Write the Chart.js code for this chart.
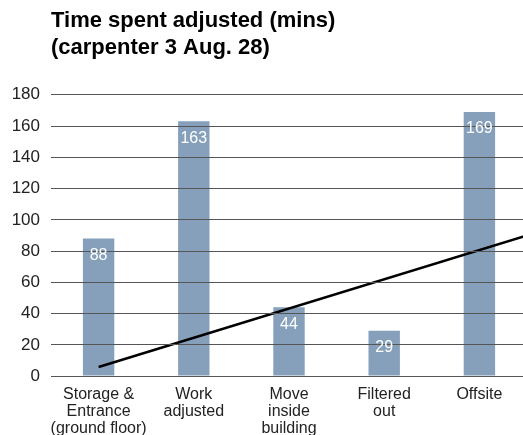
<!DOCTYPE html>
<html>
<head>
<meta charset="utf-8">
<script src="https://cdn.jsdelivr.net/npm/chart.js@4.4.0/dist/chart.umd.min.js"></script>
<style>
  html, body { margin: 0; padding: 0; overflow: hidden; background: #fff; }
  #wrap { width: 527px; height: 447px; }
</style>
</head>
<body>
<div id="wrap"><canvas id="chart"></canvas></div>
<script>
const categories = [
  ['Storage &', 'Entrance', '(ground floor)'],
  ['Work', 'adjusted'],
  ['Move', 'inside', 'building'],
  ['Filtered', 'out'],
  ['Offsite']
];
const minutes = [88, 163, 44, 29, 169];
// trend line: start at first bar, end at right edge
const trendX = [0, 4.5];
const trendY = [5.8, 90];
const yTicks = [0, 20, 40, 60, 80, 100, 120, 140, 160, 180];

const barLabels = {
  id: 'barLabels',
  afterDraw(chart) {
    const ctx = chart.ctx;
    const meta = chart.getDatasetMeta(0);
    ctx.save();
    ctx.fillStyle = '#ffffff';
    ctx.font = '16px "Liberation Sans", Arial, sans-serif';
    ctx.textAlign = 'center';
    ctx.textBaseline = 'middle';
    meta.data.forEach((bar, i) => {
      ctx.fillText(String(minutes[i]), bar.x, bar.y + 17);
    });
    ctx.restore();
  }
};

new Chart(document.getElementById('chart'), {
  data: {
    labels: categories,
    datasets: [
      {
        type: 'bar',
        data: minutes,
        backgroundColor: '#86a0bc',
        grouped: false,
        barPercentage: 0.33,
        categoryPercentage: 1,
        order: 2
      },
      {
        type: 'line',
        data: trendX.map((x, i) => ({ x: x, y: trendY[i] })),
        xAxisID: 'x2',
        borderColor: '#000000',
        borderWidth: 2.5,
        pointRadius: 0,
        fill: false,
        order: 1
      }
    ]
  },
  options: {
    responsive: true,
    maintainAspectRatio: false,
    animation: false,
    layout: { padding: 0 },
    plugins: {
      legend: { display: false },
      tooltip: { enabled: false },
      title: {
        display: true,
        text: ['Time spent adjusted (mins)', '(carpenter 3 Aug. 28)'],
        align: 'start',
        fullSize: false,
        color: '#000',
        font: { family: '"Liberation Sans", Arial, sans-serif', size: 22, weight: 'bold', lineHeight: 1.2 },
        padding: { top: 8, bottom: 34 }
      }
    },
    scales: {
      x: {
        offset: true,
        grid: { display: false, drawTicks: false },
        border: { display: true, color: '#777', width: 1 },
        ticks: {
          color: '#222',
          padding: 10,
          maxRotation: 0,
          autoSkip: false,
          font: { family: '"Liberation Sans", Arial, sans-serif', size: 16, lineHeight: 1.06 }
        }
      },
      x2: {
        type: 'linear',
        min: -0.5,
        max: 4.5,
        display: false
      },
      y: {
        min: 0,
        max: 180,
        afterFit(scale) { scale.width = 51; },
        afterBuildTicks(scale) { scale.ticks = yTicks.map(v => ({ value: v })); },
        grid: { color: '#555', lineWidth: 1, drawTicks: false, z: 1 },
        border: { display: false },
        ticks: {
          color: '#222',
          padding: 11,
          font: { family: '"Liberation Sans", Arial, sans-serif', size: 17 }
        }
      }
    }
  },
  plugins: [barLabels]
});
</script>
</body>
</html>
